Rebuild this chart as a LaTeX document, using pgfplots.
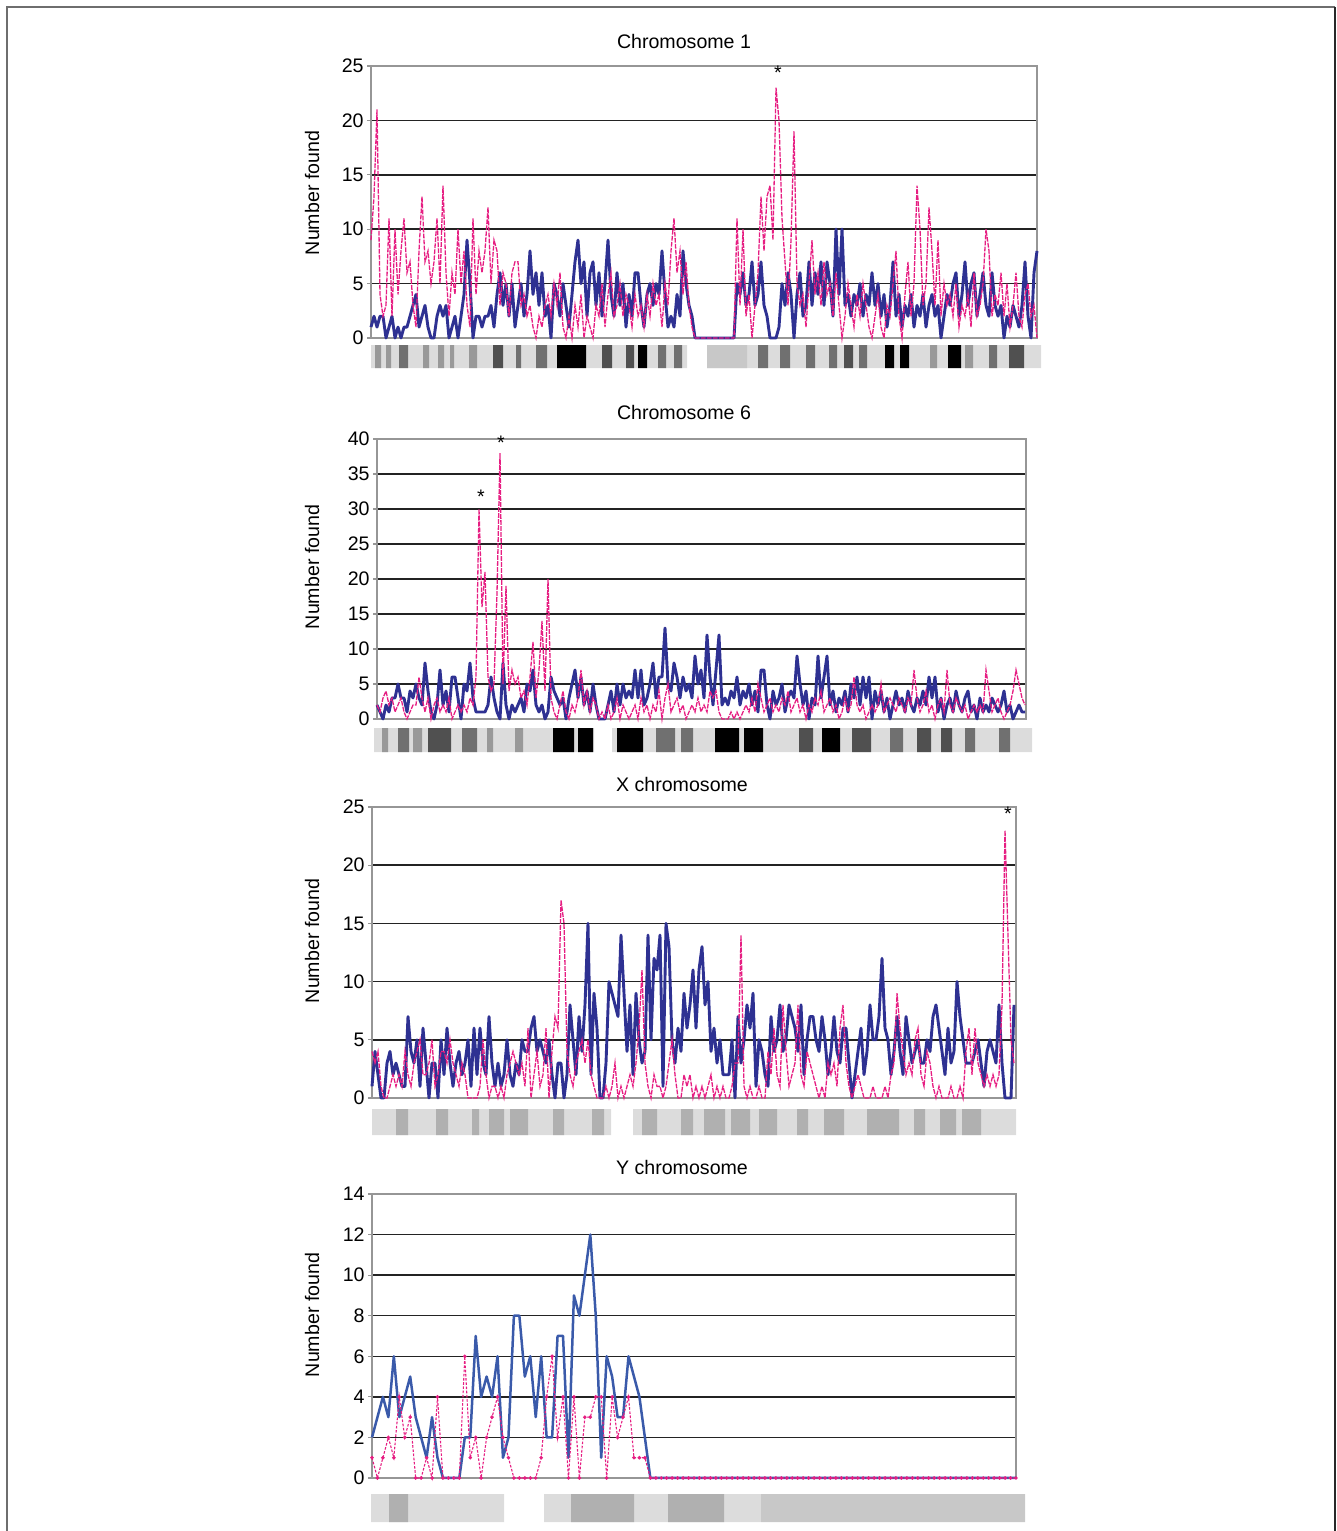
\documentclass[border=0pt]{standalone}
\usepackage{fontspec}
\setmainfont{Liberation Sans}
\usepackage{pgfplots}
\pgfplotsset{compat=1.18}
\definecolor{navy}{RGB}{46,49,146}
\definecolor{ybl}{RGB}{58,90,170}
\definecolor{pnk}{RGB}{230,30,130}
\definecolor{gridc}{RGB}{35,35,35}
\definecolor{boxc}{RGB}{150,150,150}
\definecolor{iL}{RGB}{220,220,220}
\definecolor{iM}{RGB}{200,200,200}
\definecolor{iGa}{RGB}{153,153,153}
\definecolor{iGb}{RGB}{112,112,112}
\definecolor{iGc}{RGB}{80,80,80}
\definecolor{iX}{RGB}{176,176,176}
\newcommand{\ff}{\fontsize{9.8}{11}\selectfont}
\pgfplotsset{
 panel/.style={scale only axis, anchor=south west, xtick=\empty, ymajorgrids,
   major grid style={draw=gridc, line width=0.75pt},
   axis line style={draw=boxc, line width=0.6pt},
   tick align=outside, major tick length=2pt, ytick pos=left,
   ytick style={draw=boxc, line width=0.6pt}, ymin=0, xmin=0, clip=false,
   tick label style={font=\ff}, yticklabel style={inner sep=1.5pt},
   /pgf/number format/assume math mode=true},
 bl/.style={draw=navy, line width=1.45pt, line join=round, mark=none},
 pk/.style={draw=pnk, line width=0.65pt, dash pattern=on 2.4pt off 0.6pt, mark=none},
}
\begin{document}
\begin{tikzpicture}
% ideograms
\begin{axis}[at={(0pt,0pt)}, anchor=south west, scale only axis, width=668.5pt, height=765.5pt,
  xmin=0, xmax=1337, ymin=0, ymax=1531, y dir=reverse, hide axis, unbounded coords=jump]
\addplot[fill=iL, draw=none] coordinates {
(371,345)(687,345)(687,368)(371,368)(nan,nan)
(707,345)(1041,345)(1041,368)(707,368)(nan,nan)
(374,728)(594,728)(594,752)(374,752)(nan,nan)
(612,728)(1032,728)(1032,752)(612,752)(nan,nan)
(372,1109)(611,1109)(611,1135)(372,1135)(nan,nan)
(633,1109)(1016,1109)(1016,1135)(633,1135)(nan,nan)
(371,1494)(504,1494)(504,1522)(371,1522)(nan,nan)
(544,1494)(761,1494)(761,1522)(544,1522)};
\addplot[fill=iM, draw=none] coordinates {
(707,345)(747,345)(747,368)(707,368)(nan,nan)
(761,1494)(1025,1494)(1025,1522)(761,1522)};
\addplot[fill=iGa, draw=none] coordinates {
(375,345)(381,345)(381,368)(375,368)(nan,nan)
(386,345)(391,345)(391,368)(386,368)(nan,nan)
(423,345)(429,345)(429,368)(423,368)(nan,nan)
(438,345)(444,345)(444,368)(438,368)(nan,nan)
(450,345)(454,345)(454,368)(450,368)(nan,nan)
(469,345)(477,345)(477,368)(469,368)(nan,nan)
(930,345)(937,345)(937,368)(930,368)(nan,nan)
(965,345)(973,345)(973,368)(965,368)(nan,nan)
(382,728)(388,728)(388,752)(382,752)(nan,nan)
(413,728)(422,728)(422,752)(413,752)(nan,nan)
(487,728)(493,728)(493,752)(487,752)(nan,nan)
(515,728)(523,728)(523,752)(515,752)};
\addplot[fill=iGb, draw=none] coordinates {
(399,345)(408,345)(408,368)(399,368)(nan,nan)
(516,345)(521,345)(521,368)(516,368)(nan,nan)
(536,345)(547,345)(547,368)(536,368)(nan,nan)
(658,345)(666,345)(666,368)(658,368)(nan,nan)
(674,345)(682,345)(682,368)(674,368)(nan,nan)
(758,345)(768,345)(768,368)(758,368)(nan,nan)
(780,345)(790,345)(790,368)(780,368)(nan,nan)
(806,345)(815,345)(815,368)(806,368)(nan,nan)
(829,345)(837,345)(837,368)(829,368)(nan,nan)
(859,345)(867,345)(867,368)(859,368)(nan,nan)
(989,345)(997,345)(997,368)(989,368)(nan,nan)
(398,728)(409,728)(409,752)(398,752)(nan,nan)
(462,728)(477,728)(477,752)(462,752)(nan,nan)
(656,728)(675,728)(675,752)(656,752)(nan,nan)
(681,728)(693,728)(693,752)(681,752)(nan,nan)
(890,728)(903,728)(903,752)(890,752)(nan,nan)
(965,728)(975,728)(975,752)(965,752)(nan,nan)
(999,728)(1010,728)(1010,752)(999,752)};
\addplot[fill=iGc, draw=none] coordinates {
(493,345)(503,345)(503,368)(493,368)(nan,nan)
(602,345)(612,345)(612,368)(602,368)(nan,nan)
(626,345)(634,345)(634,368)(626,368)(nan,nan)
(844,345)(853,345)(853,368)(844,368)(nan,nan)
(1009,345)(1024,345)(1024,368)(1009,368)(nan,nan)
(428,728)(451,728)(451,752)(428,752)(nan,nan)
(799,728)(813,728)(813,752)(799,752)(nan,nan)
(852,728)(871,728)(871,752)(852,752)(nan,nan)
(917,728)(931,728)(931,752)(917,752)(nan,nan)
(941,728)(952,728)(952,752)(941,752)};
\addplot[fill=black, draw=none] coordinates {
(557,345)(586,345)(586,368)(557,368)(nan,nan)
(638,345)(647,345)(647,368)(638,368)(nan,nan)
(885,345)(894,345)(894,368)(885,368)(nan,nan)
(900,345)(909,345)(909,368)(900,368)(nan,nan)
(948,345)(961,345)(961,368)(948,368)(nan,nan)
(553,728)(574,728)(574,752)(553,752)(nan,nan)
(578,728)(593,728)(593,752)(578,752)(nan,nan)
(617,728)(643,728)(643,752)(617,752)(nan,nan)
(715,728)(739,728)(739,752)(715,752)(nan,nan)
(744,728)(763,728)(763,752)(744,752)(nan,nan)
(822,728)(840,728)(840,752)(822,752)};
\addplot[fill=iX, draw=none] coordinates {
(396,1109)(408,1109)(408,1135)(396,1135)(nan,nan)
(436,1109)(448,1109)(448,1135)(436,1135)(nan,nan)
(472,1109)(479,1109)(479,1135)(472,1135)(nan,nan)
(489,1109)(504,1109)(504,1135)(489,1135)(nan,nan)
(510,1109)(528,1109)(528,1135)(510,1135)(nan,nan)
(553,1109)(564,1109)(564,1135)(553,1135)(nan,nan)
(592,1109)(604,1109)(604,1135)(592,1135)(nan,nan)
(642,1109)(657,1109)(657,1135)(642,1135)(nan,nan)
(681,1109)(693,1109)(693,1135)(681,1135)(nan,nan)
(704,1109)(725,1109)(725,1135)(704,1135)(nan,nan)
(731,1109)(750,1109)(750,1135)(731,1135)(nan,nan)
(759,1109)(777,1109)(777,1135)(759,1135)(nan,nan)
(797,1109)(808,1109)(808,1135)(797,1135)(nan,nan)
(824,1109)(844,1109)(844,1135)(824,1135)(nan,nan)
(867,1109)(899,1109)(899,1135)(867,1135)(nan,nan)
(914,1109)(925,1109)(925,1135)(914,1135)(nan,nan)
(940,1109)(956,1109)(956,1135)(940,1135)(nan,nan)
(962,1109)(981,1109)(981,1135)(962,1135)(nan,nan)
(389,1494)(408,1494)(408,1522)(389,1522)(nan,nan)
(571,1494)(634,1494)(634,1522)(571,1522)(nan,nan)
(668,1494)(724,1494)(724,1522)(668,1522)};
\end{axis}

% Chromosome 1
\begin{axis}[panel, at={(185.5pt,596.5pt)}, width=333pt, height=136pt, xmax=666, ymax=25, ytick distance=5]
\addplot[bl] table[header=false, row sep=\\, x expr=\coordindex*3, y index=0] {
1\\2\\1\\2\\2\\0\\1\\2\\0\\1\\0\\1\\1\\2\\3\\4\\1\\2\\3\\1\\0\\0\\2\\3\\2\\3\\0\\1\\2\\0\\2\\
4\\9\\5\\0\\2\\2\\1\\2\\2\\3\\1\\4\\6\\3\\5\\2\\5\\1\\3\\5\\2\\4\\8\\4\\6\\3\\6\\2\\3\\0\\
5\\4\\2\\5\\3\\1\\4\\7\\9\\5\\7\\2\\6\\7\\3\\6\\2\\5\\9\\4\\2\\6\\3\\5\\1\\4\\2\\6\\6\\3\\
1\\4\\5\\3\\5\\4\\8\\4\\1\\2\\1\\4\\2\\8\\5\\3\\2\\0\\0\\0\\0\\0\\0\\0\\0\\0\\0\\0\\0\\0\\0\\
5\\4\\6\\3\\4\\7\\3\\4\\7\\3\\2\\0\\0\\0\\1\\5\\3\\6\\4\\0\\4\\6\\2\\3\\7\\3\\6\\4\\7\\3\\7\\
5\\2\\10\\4\\10\\3\\4\\2\\4\\3\\5\\2\\4\\3\\6\\3\\5\\2\\4\\1\\3\\7\\2\\4\\1\\3\\2\\4\\1\\3\\2\\
4\\1\\3\\4\\2\\3\\0\\2\\4\\3\\5\\6\\2\\4\\7\\3\\5\\6\\2\\4\\6\\3\\2\\6\\3\\2\\3\\0\\2\\1\\3\\2\\1\\3\\7\\2\\0\\6\\8\\
};
\addplot[pk] table[header=false, row sep=\\, x expr=\coordindex*3, y index=0] {
9\\13\\21\\4\\2\\3\\11\\2\\10\\4\\8\\11\\6\\7\\3\\1\\8\\13\\7\\8\\5\\7\\11\\5\\14\\6\\2\\6\\4\\10\\5\\
8\\3\\1\\11\\4\\8\\6\\8\\12\\5\\9\\8\\3\\6\\5\\2\\6\\7\\7\\3\\4\\2\\3\\1\\0\\2\\1\\3\\4\\2\\
5\\3\\6\\1\\0\\2\\0\\3\\1\\4\\0\\2\\1\\0\\3\\2\\5\\1\\4\\6\\2\\3\\5\\2\\4\\3\\1\\4\\2\\3\\
1\\4\\2\\5\\3\\4\\1\\5\\3\\8\\11\\6\\8\\4\\7\\3\\1\\0\\0\\0\\0\\0\\0\\0\\0\\0\\0\\0\\0\\0\\0\\
11\\3\\10\\2\\4\\0\\3\\6\\13\\8\\13\\14\\9\\23\\20\\11\\7\\3\\9\\19\\5\\3\\4\\1\\5\\9\\4\\6\\3\\7\\4\\
5\\2\\6\\3\\0\\2\\5\\3\\1\\4\\2\\5\\3\\1\\0\\2\\4\\1\\0\\3\\2\\5\\8\\2\\0\\4\\7\\2\\5\\14\\10\\
3\\5\\12\\8\\3\\9\\2\\5\\3\\4\\2\\5\\1\\3\\2\\4\\1\\6\\2\\3\\5\\10\\8\\2\\4\\3\\6\\2\\5\\1\\3\\6\\2\\1\\4\\5\\2\\3\\0\\
};
\node[font=\ff] at (axis cs:407,24.4) {*};
\end{axis}

% Chromosome 6
\begin{axis}[panel, at={(188.5pt,406pt)}, width=324.5pt, height=140pt, xmax=649, ymax=40, ytick distance=5]
\addplot[bl] table[header=false, row sep=\\, x expr=\coordindex*3, y index=0] {
2\\1\\0\\2\\1\\3\\3\\5\\3\\3\\1\\4\\3\\5\\3\\2\\8\\4\\1\\0\\2\\7\\2\\4\\1\\6\\6\\3\\0\\5\\4\\
8\\3\\1\\1\\1\\1\\2\\6\\3\\1\\0\\8\\2\\0\\2\\1\\2\\3\\1\\5\\4\\7\\2\\1\\2\\0\\1\\6\\4\\3\\
2\\3\\0\\3\\5\\7\\3\\6\\2\\4\\1\\5\\2\\0\\0\\0\\2\\4\\1\\5\\2\\5\\3\\4\\3\\7\\3\\7\\2\\3\\
5\\8\\3\\6\\6\\13\\5\\4\\8\\6\\3\\6\\4\\5\\3\\
9\\5\\7\\3\\12\\6\\2\\7\\12\\2\\3\\2\\4\\3\\6\\2\\4\\3\\5\\2\\4\\1\\7\\7\\2\\0\\4\\2\\3\\5\\1\\
3\\4\\3\\9\\5\\2\\4\\0\\3\\2\\9\\3\\6\\9\\2\\4\\1\\3\\2\\4\\1\\5\\3\\6\\2\\6\\3\\6\\0\\4\\2\\
4\\1\\3\\0\\2\\4\\2\\3\\1\\4\\2\\1\\3\\2\\4\\2\\6\\3\\6\\1\\3\\0\\2\\3\\1\\4\\2\\1\\3\\4\\1\\2\\0\\3\\1\\2\\1\\3\\2\\1\\2\\4\\1\\2\\0\\1\\2\\1\\1\\
};
\addplot[pk] table[header=false, row sep=\\, x expr=\coordindex*3, y index=0] {
2\\1\\3\\4\\2\\3\\1\\2\\3\\1\\0\\1\\2\\2\\6\\3\\1\\3\\0\\2\\3\\1\\2\\1\\3\\0\\1\\2\\1\\2\\1\\3\\
2\\6\\30\\16\\21\\6\\4\\5\\18\\38\\5\\19\\4\\7\\5\\6\\3\\4\\2\\6\\11\\3\\7\\14\\4\\20\\3\\1\\0\\
2\\4\\1\\0\\2\\1\\3\\7\\2\\4\\1\\3\\2\\0\\1\\0\\2\\0\\1\\3\\0\\2\\1\\0\\1\\2\\0\\3\\1\\2\\
0\\2\\1\\4\\0\\3\\5\\1\\2\\3\\1\\2\\0\\1\\2\\1\\3\\1\\2\\1\\4\\3\\4\\1\\0\\0\\0\\1\\0\\1\\0\\
1\\2\\1\\3\\1\\5\\3\\1\\2\\3\\1\\2\\1\\3\\2\\4\\1\\2\\3\\1\\2\\0\\2\\1\\3\\2\\4\\1\\2\\3\\1\\
2\\0\\1\\3\\1\\2\\6\\2\\1\\2\\0\\1\\2\\1\\2\\5\\1\\2\\3\\2\\1\\3\\2\\1\\3\\2\\7\\3\\1\\2\\4\\
1\\2\\0\\2\\3\\1\\7\\2\\1\\3\\2\\1\\2\\0\\1\\2\\1\\2\\1\\7\\4\\1\\2\\3\\1\\0\\1\\2\\4\\7\\5\\3\\2\\
};
\node[font=\ff] at (axis cs:104,31.7) {*};
\node[font=\ff] at (axis cs:124,39.4) {*};
\end{axis}

% X chromosome
\begin{axis}[panel, at={(186pt,216.5pt)}, width=322pt, height=145.5pt, xmax=644, ymax=25, ytick distance=5]
\addplot[bl] table[header=false, row sep=\\, x expr=\coordindex*3, y index=0] {
1\\4\\2\\0\\0\\3\\4\\2\\3\\2\\1\\1\\7\\4\\3\\5\\1\\6\\3\\0\\3\\3\\0\\5\\2\\6\\3\\1\\3\\4\\2\\
3\\5\\1\\6\\2\\6\\3\\2\\7\\3\\1\\3\\1\\2\\5\\2\\1\\3\\2\\5\\4\\4\\6\\7\\4\\5\\4\\3\\5\\2\\
0\\3\\3\\0\\2\\8\\5\\2\\7\\4\\8\\15\\2\\9\\6\\0\\0\\3\\10\\9\\8\\7\\14\\9\\4\\8\\2\\9\\5\\3\\
4\\14\\5\\12\\11\\14\\1\\15\\13\\5\\3\\6\\4\\9\\6\\8\\11\\
6\\11\\13\\8\\10\\4\\6\\3\\5\\2\\2\\2\\5\\0\\7\\3\\5\\8\\6\\9\\1\\5\\4\\2\\1\\7\\4\\5\\8\\4\\5\\
8\\7\\6\\4\\8\\2\\5\\7\\7\\5\\4\\7\\5\\2\\4\\7\\4\\3\\6\\6\\3\\0\\2\\4\\6\\2\\4\\8\\5\\5\\7\\
12\\6\\5\\2\\4\\7\\4\\2\\7\\5\\3\\4\\5\\3\\3\\5\\4\\7\\8\\6\\4\\2\\6\\3\\4\\10\\7\\5\\3\\3\\3\\4\\5\\3\\1\\4\\5\\4\\3\\8\\3\\0\\0\\0\\8\\
};
\addplot[pk] table[header=false, row sep=\\, x expr=\coordindex*3, y index=0] {
4\\3\\4\\1\\0\\0\\1\\2\\1\\2\\1\\4\\2\\1\\3\\4\\5\\2\\2\\3\\5\\1\\2\\4\\4\\3\\5\\3\\2\\1\\3\\
2\\0\\0\\0\\0\\1\\5\\2\\0\\1\\1\\0\\1\\0\\2\\3\\4\\3\\2\\3\\1\\6\\0\\2\\4\\1\\2\\6\\0\\4\\
7\\6\\17\\15\\4\\2\\1\\3\\4\\5\\3\\5\\2\\1\\0\\0\\0\\1\\0\\1\\3\\0\\1\\0\\1\\2\\1\\3\\6\\11\\
3\\1\\0\\2\\1\\1\\0\\1\\3\\5\\2\\0\\0\\2\\1\\2\\0\\1\\0\\1\\0\\1\\2\\0\\1\\0\\1\\0\\0\\1\\3\\
3\\14\\1\\0\\1\\0\\0\\1\\0\\0\\4\\2\\6\\2\\1\\8\\4\\1\\2\\3\\8\\2\\1\\4\\3\\2\\1\\0\\1\\0\\3\\
2\\3\\1\\6\\8\\3\\1\\0\\1\\2\\1\\0\\0\\0\\1\\0\\0\\0\\1\\0\\2\\3\\9\\6\\4\\2\\3\\2\\5\\6\\2\\
1\\4\\3\\1\\0\\1\\0\\0\\0\\1\\0\\0\\1\\0\\4\\6\\2\\6\\3\\2\\1\\2\\1\\2\\1\\2\\8\\23\\14\\5\\3\\
};
\node[font=\ff] at (axis cs:636,24.4) {*};
\end{axis}

% Y chromosome
\begin{axis}[panel, at={(186pt,26.5pt)}, width=322pt, height=142pt, xmax=118, ymax=14, ytick distance=2]
\addplot[draw=ybl, line width=1.25pt, line join=round, mark=none] table[header=false, row sep=\\, x expr=\coordindex, y index=0] {
2\\3\\4\\3\\6\\3\\4\\5\\3\\2\\1\\3\\1\\0\\0\\0\\0\\2\\2\\7\\4\\5\\4\\6\\1\\2\\8\\8\\5\\6\\3\\6\\2\\2\\7\\7\\1\\9\\8\\10\\12\\8\\1\\6\\5\\3\\3\\6\\5\\4\\2\\0\\
0\\0\\0\\0\\0\\0\\0\\0\\0\\0\\
0\\0\\0\\0\\0\\0\\0\\0\\0\\0\\
0\\0\\0\\0\\0\\0\\0\\0\\0\\0\\
0\\0\\0\\0\\0\\0\\0\\0\\0\\0\\
0\\0\\0\\0\\0\\0\\0\\0\\0\\0\\
0\\0\\0\\0\\0\\0\\0\\0\\0\\0\\
0\\0\\0\\0\\0\\0\\0\\
};
\addplot[draw=pnk, line width=0.55pt, dash pattern=on 1.3pt off 0.8pt, mark=*, mark size=0.6pt, mark options={solid, fill=pnk, draw=pnk}] table[header=false, row sep=\\, x expr=\coordindex, y index=0] {
1\\0\\1\\2\\1\\4\\2\\3\\0\\0\\1\\0\\4\\0\\0\\0\\0\\6\\1\\2\\0\\2\\3\\4\\2\\1\\0\\0\\0\\0\\0\\1\\4\\6\\2\\4\\0\\4\\0\\3\\3\\4\\4\\0\\4\\2\\3\\4\\1\\1\\1\\0\\
0\\0\\0\\0\\0\\0\\0\\0\\0\\0\\
0\\0\\0\\0\\0\\0\\0\\0\\0\\0\\
0\\0\\0\\0\\0\\0\\0\\0\\0\\0\\
0\\0\\0\\0\\0\\0\\0\\0\\0\\0\\
0\\0\\0\\0\\0\\0\\0\\0\\0\\0\\
0\\0\\0\\0\\0\\0\\0\\0\\0\\0\\
0\\0\\0\\0\\0\\0\\0\\
};
\end{axis}

% titles and labels
\node[font=\ff] at (342pt,744.5pt) {Chromosome 1};
\node[font=\ff] at (342pt,559pt) {Chromosome 6};
\node[font=\ff] at (341pt,373pt) {X chromosome};
\node[font=\ff] at (341pt,181.5pt) {Y chromosome};
\node[font=\ff, rotate=90] at (156pt,669pt) {Number found};
\node[font=\ff, rotate=90] at (156pt,482pt) {Number found};
\node[font=\ff, rotate=90] at (156pt,295pt) {Number found};
\node[font=\ff, rotate=90] at (156pt,108pt) {Number found};
% frame
\draw[line width=1pt, draw={rgb,255:red,110;green,110;blue,110}] (3.5pt,0pt) -- (3.5pt,762pt) -- (667.5pt,762pt);
\draw[line width=1pt, draw={rgb,255:red,40;green,40;blue,40}] (667.5pt,762pt) -- (667.5pt,0pt);
\pgfresetboundingbox
\useasboundingbox (0pt,0pt) rectangle (668.5pt,765.5pt);
\end{tikzpicture}
\end{document}
